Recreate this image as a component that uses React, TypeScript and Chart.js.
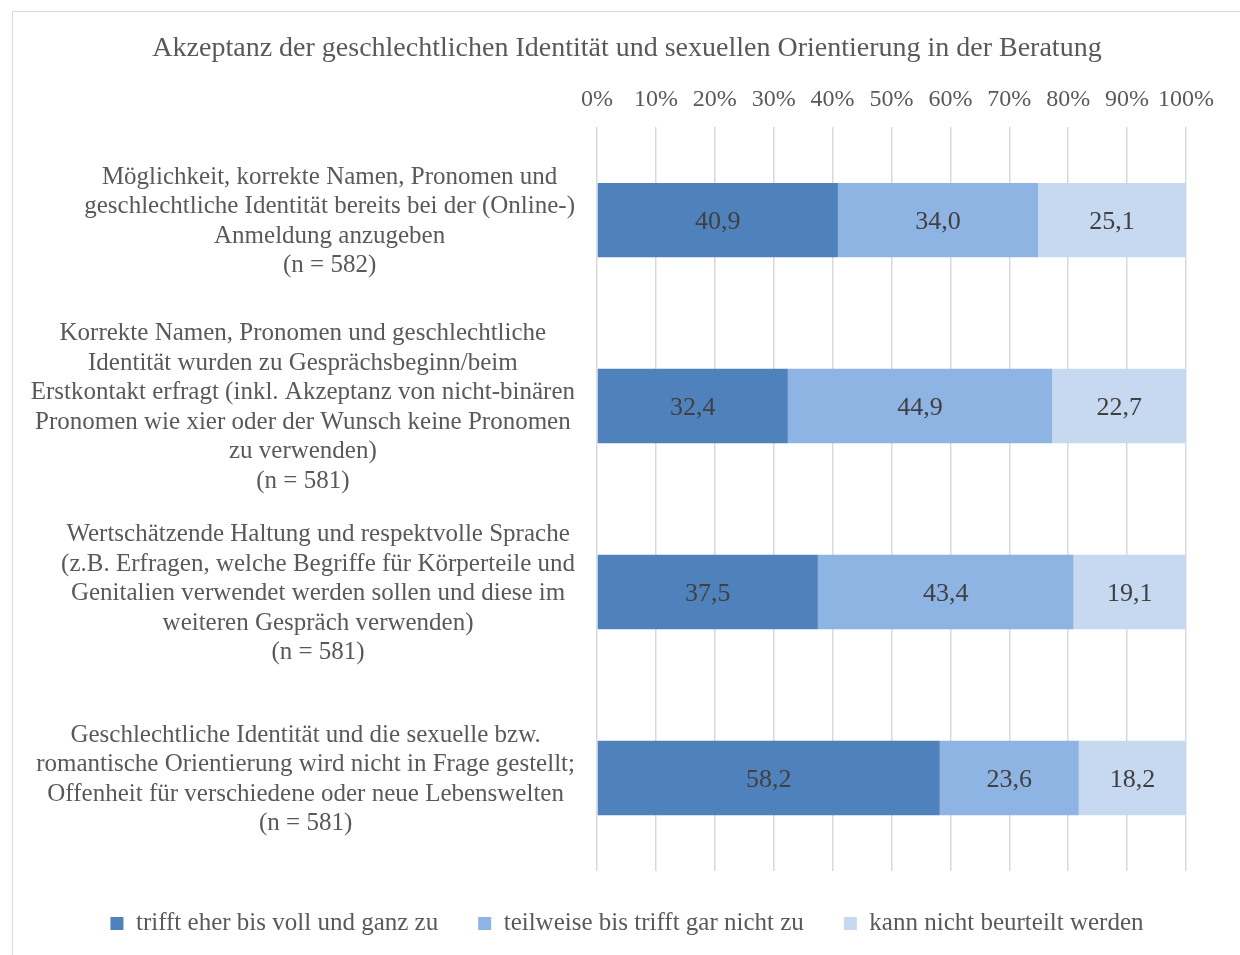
import React, { useEffect, useRef } from "react";
import { Chart, registerables } from "chart.js";

Chart.register(...registerables);

const chartTitle =
  "Akzeptanz der geschlechtlichen Identität und sexuellen Orientierung in der Beratung";

const categories: string[][] = [
  [
    "Möglichkeit, korrekte Namen, Pronomen und",
    "geschlechtliche Identität bereits bei der (Online-)",
    "Anmeldung anzugeben",
    "(n = 582)",
  ],
  [
    "Korrekte Namen, Pronomen und geschlechtliche",
    "Identität wurden zu Gesprächsbeginn/beim",
    "Erstkontakt erfragt (inkl. Akzeptanz von nicht-binären",
    "Pronomen wie xier oder der Wunsch keine Pronomen",
    "zu verwenden)",
    "(n = 581)",
  ],
  [
    "Wertschätzende Haltung und respektvolle Sprache",
    "(z.B. Erfragen, welche Begriffe für Körperteile und",
    "Genitalien verwendet werden sollen und diese im",
    "weiteren Gespräch verwenden)",
    "(n = 581)",
  ],
  [
    "Geschlechtliche Identität und die sexuelle bzw.",
    "romantische Orientierung wird nicht in Frage gestellt;",
    "Offenheit für verschiedene oder neue Lebenswelten",
    "(n = 581)",
  ],
];

const seriesNames = [
  "trifft eher bis voll und ganz zu",
  "teilweise bis trifft gar nicht zu",
  "kann nicht beurteilt werden",
];
const trifftZu = [40.9, 32.4, 37.5, 58.2];
const teilweise = [34.0, 44.9, 43.4, 23.6];
const kannNicht = [25.1, 22.7, 19.1, 18.2];
const seriesColors = ["#4F81BD", "#8EB4E3", "#C6D9F1"];
const xTickValues = [0, 10, 20, 30, 40, 50, 60, 70, 80, 90, 100];

const FONT = "'Liberation Serif', 'DejaVu Serif', serif";
const TEXT = "#595959";

const categoryLabelPlugin = {
  id: "categoryLabels",
  afterDraw(chart: any) {
    const ctx = chart.ctx;
    const yScale = chart.scales.y;
    const labels = chart.data.labels as string[][];
    const right = chart.chartArea.left - 22;
    const lineH = 29.5;
    ctx.save();
    ctx.font = `25px ${FONT}`;
    ctx.fillStyle = TEXT;
    ctx.textAlign = "center";
    ctx.textBaseline = "middle";
    labels.forEach((lines, i) => {
      const cy = yScale.getPixelForTick(i) + 1.5;
      const widest = Math.max(...lines.map((l) => ctx.measureText(l).width));
      const cx = right - widest / 2;
      const startY = cy - ((lines.length - 1) * lineH) / 2;
      lines.forEach((l, j) => ctx.fillText(l, cx, startY + j * lineH));
    });
    ctx.restore();
  },
};

const valueLabelPlugin = {
  id: "valueLabels",
  afterDatasetsDraw(chart: any) {
    const ctx = chart.ctx;
    ctx.save();
    ctx.font = `26px ${FONT}`;
    ctx.fillStyle = "#404040";
    ctx.textAlign = "center";
    ctx.textBaseline = "middle";
    chart.data.datasets.forEach((ds: any, di: number) => {
      const meta = chart.getDatasetMeta(di);
      meta.data.forEach((el: any, i: number) => {
        const { x, y } = el.getCenterPoint();
        const v = ds.data[i] as number;
        ctx.fillText(v.toFixed(1).replace(".", ","), x, y + 2);
      });
    });
    ctx.restore();
  },
};

export default function App() {
  const ref = useRef<HTMLCanvasElement | null>(null);

  useEffect(() => {
    if (!ref.current) return;
    const chart = new Chart(ref.current, {
      type: "bar",
      data: {
        labels: categories as any,
        datasets: [
          { label: seriesNames[0], data: trifftZu, backgroundColor: seriesColors[0], borderWidth: 0 },
          { label: seriesNames[1], data: teilweise, backgroundColor: seriesColors[1], borderWidth: 0 },
          { label: seriesNames[2], data: kannNicht, backgroundColor: seriesColors[2], borderWidth: 0 },
        ],
      },
      options: {
        indexAxis: "y",
        animation: false,
        responsive: true,
        maintainAspectRatio: false,
        layout: { padding: { left: 55, right: 55, top: 0, bottom: 9 } },
        datasets: { bar: { barPercentage: 1, categoryPercentage: 0.4 } },
        scales: {
          x: {
            position: "top",
            stacked: true,
            min: 0,
            max: 100,
            afterBuildTicks(scale: any) {
              scale.ticks = xTickValues.map((v) => ({ value: v }));
            },
            afterFit(scale: any) {
              scale.height = 61.5;
            },
            grid: { color: "#D9D9D9", lineWidth: 1.5, drawTicks: false },
            border: { display: false },
            ticks: {
              padding: 13,
              color: TEXT,
              font: { family: FONT, size: 24 },
              maxRotation: 0,
              autoSkip: false,
              callback: (v: any) => `${v}%`,
            },
          },
          y: {
            stacked: true,
            grid: { display: false },
            border: { display: false },
            ticks: { display: false },
            afterFit(scale: any) {
              scale.width = 529;
            },
          },
        },
        plugins: {
          title: {
            display: true,
            text: chartTitle,
            color: TEXT,
            font: { family: FONT, size: 28, weight: "normal" },
            padding: { top: 20, bottom: 0 },
          },
          legend: {
            display: true,
            position: "bottom",
            labels: {
              boxWidth: 13,
              boxHeight: 13,
              padding: 40,
              color: TEXT,
              font: { family: FONT, size: 25 },
            },
          },
          tooltip: { enabled: false },
        },
      },
      plugins: [categoryLabelPlugin, valueLabelPlugin],
    });
    return () => chart.destroy();
  }, []);

  return (
    <div
      style={{
        position: "fixed",
        left: 12,
        top: 11,
        width: 1240,
        height: 960,
        border: "1px solid #D9D9D9",
        boxSizing: "border-box",
        background: "#fff",
      }}
    >
      <div style={{ position: "absolute", left: 0, top: 0, width: 1228, height: 943 }}>
        <canvas ref={ref} />
      </div>
    </div>
  );
}
